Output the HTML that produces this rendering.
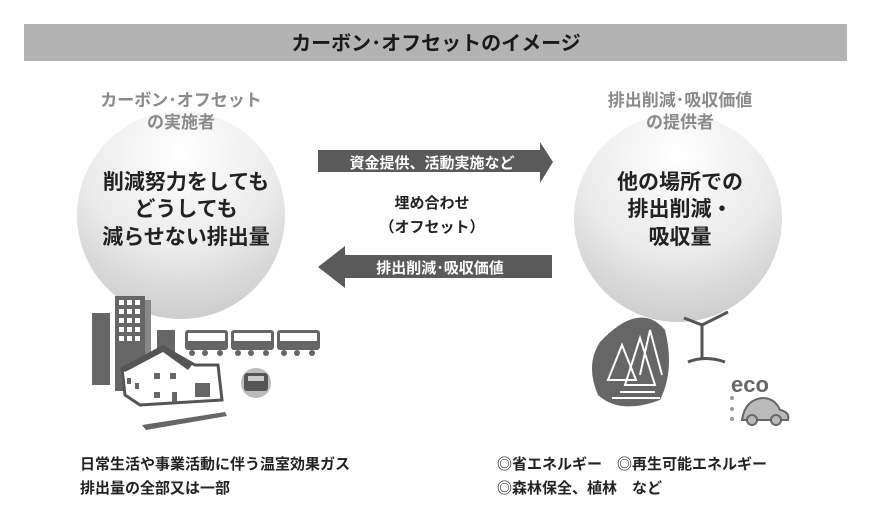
<!DOCTYPE html>
<html><head><meta charset="utf-8"><style>
body{margin:0;background:#fff;width:872px;height:512px;overflow:hidden}
svg{display:block}
text{font-family:"Liberation Sans","Noto Sans CJK JP",sans-serif;font-weight:bold}
</style></head><body>
<svg width="872" height="512" viewBox="0 0 872 512">
<defs>
<radialGradient id="g" cx="0.5" cy="0.2" r="0.85">
<stop offset="0" stop-color="#ffffff"/><stop offset="0.55" stop-color="#ebebeb"/><stop offset="1" stop-color="#c8c8c8"/>
</radialGradient>
</defs>
<rect x="24" y="24" width="823" height="37" fill="#b3b3b3"/>
<text x="436" y="50" font-size="20" text-anchor="middle" fill="#1a1a1a">カーボン･オフセットのイメージ</text>

<circle cx="181" cy="215" r="104" fill="url(#g)"/>
<circle cx="678" cy="218" r="104" fill="url(#g)"/>

<g fill="#8a8a8a" font-size="17" text-anchor="middle">
<text x="181" y="106">カーボン･オフセット</text>
<text x="181" y="128">の実施者</text>
<text x="680" y="106">排出削減･吸収価値</text>
<text x="680" y="128">の提供者</text>
</g>
<g fill="#222" font-size="21" text-anchor="middle">
<text x="186" y="189">削減努力をしても</text>
<text x="186" y="216">どうしても</text>
<text x="186" y="244">減らせない排出量</text>
<text x="680" y="189">他の場所での</text>
<text x="680" y="216">排出削減・</text>
<text x="680" y="244">吸収量</text>
</g>

<polygon points="318,150 540,150 540,142 553,162 540,183 540,172 318,172" fill="#5a5a5a"/>
<text x="432" y="168" font-size="15" text-anchor="middle" fill="#fff">資金提供、活動実施など</text>
<polygon points="552,255 345,255 345,246 318,267 345,288 345,278 552,278" fill="#5a5a5a"/>
<text x="440" y="273" font-size="15" text-anchor="middle" fill="#fff">排出削減･吸収価値</text>
<text x="432" y="208" font-size="15" text-anchor="middle" fill="#222">埋め合わせ</text>
<text x="432" y="232" font-size="15" text-anchor="middle" fill="#222">（オフセット）</text>

<!-- city -->
<g fill="#666">
<rect x="92" y="313" width="18" height="72"/>
<rect x="115" y="296" width="30" height="95"/>
<rect x="145" y="300" width="6" height="80" fill="#888"/>
<rect x="157" y="330" width="18" height="40"/>
</g>
<g fill="#fff">
<rect x="119" y="300" width="5" height="5"/><rect x="127" y="300" width="5" height="5"/><rect x="135" y="300" width="5" height="5"/>
<rect x="119" y="309" width="5" height="5"/><rect x="127" y="309" width="5" height="5"/><rect x="135" y="309" width="5" height="5"/>
<rect x="119" y="318" width="5" height="5"/><rect x="127" y="318" width="5" height="5"/><rect x="135" y="318" width="5" height="5"/>
<rect x="119" y="327" width="5" height="5"/><rect x="127" y="327" width="5" height="5"/><rect x="135" y="327" width="5" height="5"/>
<rect x="119" y="336" width="5" height="5"/><rect x="127" y="336" width="5" height="5"/><rect x="135" y="336" width="5" height="5"/>
</g>
<!-- house -->
<polygon points="122,368 165,348 195,365 218,365 222,400 140,405 125,395" fill="#fff" stroke="#555" stroke-width="3"/>
<polygon points="120,368 163,345 192,365 188,370 163,352 125,372" fill="#555"/>
<g fill="#666"><rect x="154" y="373" width="6" height="6"/><rect x="170" y="373" width="6" height="6"/><rect x="154" y="392" width="6" height="6"/><rect x="172" y="392" width="5" height="10"/><rect x="195" y="383" width="15" height="14"/><rect x="127" y="378" width="4" height="6"/><rect x="135" y="383" width="4" height="6"/></g>
<polygon points="142,425 225,412 227,416 146,430" fill="#666"/>
<!-- train -->
<g fill="#666">
<rect x="185" y="330" width="43" height="20" rx="3"/>
<rect x="231" y="330" width="43" height="20" rx="3"/>
<rect x="277" y="330" width="43" height="20" rx="3"/>
</g>
<g fill="#fff">
<rect x="188" y="333" width="37" height="8"/><rect x="234" y="333" width="37" height="8"/><rect x="280" y="333" width="37" height="8"/>
</g>
<g fill="#666">
<circle cx="192" cy="353" r="3"/><circle cx="205" cy="353" r="3"/><circle cx="220" cy="353" r="3"/>
<circle cx="238" cy="353" r="3"/><circle cx="251" cy="353" r="3"/><circle cx="266" cy="353" r="3"/>
<circle cx="284" cy="353" r="3"/><circle cx="297" cy="353" r="3"/><circle cx="312" cy="353" r="3"/>
</g>
<circle cx="256" cy="383" r="15" fill="#bbb"/>
<rect x="244" y="373" width="24" height="18" rx="3" fill="#555"/>
<rect x="248" y="376" width="16" height="5" fill="#ccc"/>

<!-- nature -->
<path d="M600,342 Q640,300 665,330 Q675,370 660,400 Q620,415 598,395 Q585,365 600,342Z" fill="#666"/>
<g stroke="#fff" stroke-width="2" fill="none">
<path d="M608,380 L622,345 L636,380 Z M625,385 L640,338 L655,385 Z M640,375 L650,330 L662,375"/>
<path d="M612,398 L660,398 M620,392 L655,392"/>
</g>
<g stroke="#555" stroke-width="3" fill="none">
<line x1="702" y1="325" x2="702" y2="360"/>
<line x1="684" y1="318" x2="702" y2="325"/><line x1="702" y1="325" x2="728" y2="312"/>
<path d="M688,362 Q705,355 725,362"/>
</g>
<text x="731" y="392" font-size="22" fill="#666" font-family="Liberation Sans">eco</text>
<path d="M742,420 Q745,400 762,398 Q775,398 780,410 Q790,412 788,420Z" fill="#bbb" stroke="#666" stroke-width="2"/>
<circle cx="752" cy="420" r="5" fill="#bbb" stroke="#666" stroke-width="2"/>
<circle cx="776" cy="420" r="5" fill="#bbb" stroke="#666" stroke-width="2"/>
<g fill="#999"><circle cx="732" cy="398" r="2"/><circle cx="732" cy="409" r="2"/><circle cx="732" cy="419" r="2"/></g>

<g fill="#222" font-size="15">
<text x="80" y="469">日常生活や事業活動に伴う温室効果ガス</text>
<text x="80" y="493">排出量の全部又は一部</text>
<text x="497" y="469">◎省エネルギー　◎再生可能エネルギー</text>
<text x="497" y="493">◎森林保全、植林　など</text>
</g>
</svg>
</body></html>
